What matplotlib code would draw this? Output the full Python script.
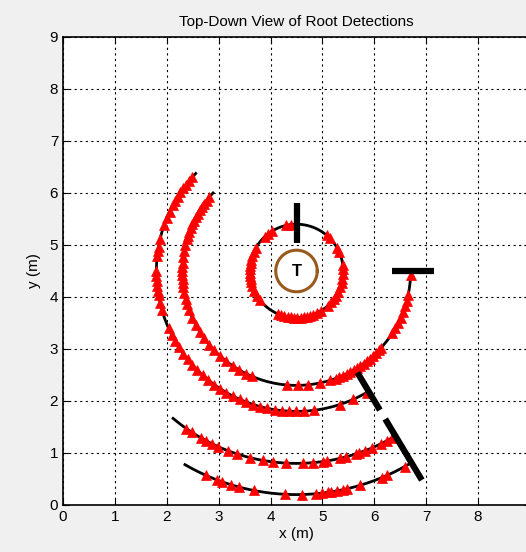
import numpy as np
import matplotlib.pyplot as plt

# tree position and scan rings around it (m)
tree_xy = (4.5, 4.5)
tree_radius = 0.4
ring_radius = [0.9, 2.2, 2.7, 3.7, 4.3]
arc_start = [0, 137, 136, 230, 240]   # deg
arc_end = [360, 357, 301, 301, 300]   # deg

# angles (deg) at which a root was detected on each ring
det_ring0 = [97, 103, 122, 128, 133, 150, 156, 161, 166, 170, 174, 178, 182, 186, 190,
             194, 199, 205, 212, 218, 247, 251, 255, 259, 263, 267, 271, 275, 279, 283,
             287, 291, 296, 301, 312, 318, 323, 328, 334, 340, 345, 350, 356, 2, 7,
             24, 29, 44, 50]
det_ring1 = [140, 142, 144, 146, 148, 150, 152, 154, 156, 158, 160, 162, 164, 167, 170,
             173, 176, 178, 180, 182, 184, 186, 188, 191, 194, 197, 200, 204, 208, 212,
             216, 220, 224, 228, 232, 236, 240, 244, 247, 265, 271, 276, 282, 287, 290,
             292, 294, 296, 298, 300, 302, 304, 306, 308, 310, 312, 314, 316, 318, 327,
             330, 333, 336, 339, 342, 345, 348, 358]
det_ring2 = [138, 140, 142, 144, 146, 148, 150, 152, 155, 158, 161, 167, 170, 172, 174,
             180, 182, 184, 186, 188, 190, 193, 196, 204, 207, 210, 213, 216, 219, 222,
             225, 228, 231, 234, 237, 240, 243, 246, 249, 252, 255, 258, 261, 264, 267,
             270, 273, 277, 288, 294, 300]
det_ring3 = [235, 237, 240, 242, 244, 246, 249, 252, 256, 260, 263, 267, 272, 275, 278,
             279, 283, 285, 288, 289, 291, 293, 296, 298, 300]
det_ring4 = [246, 249, 250.5, 253, 255, 259, 267, 271.5, 275, 276.5, 278, 279, 280.5,
             282, 283, 286.5, 292.5, 294, 299]
detections = [det_ring0, det_ring1, det_ring2, det_ring3, det_ring4]

# radial cut lines: (angle deg, inner r, outer r)
cut_angle = [90, 0, -59, -59]
cut_r0 = [0.54, 1.85, 2.28, 3.32]
cut_r1 = [1.30, 2.65, 3.12, 4.69]

x_ticklabels = ['0', '1', '2', '3', '4', '5', '6', '7', '8', '']

plt.rcParams['font.family'] = ['Liberation Sans', 'DejaVu Sans']

fig = plt.figure(figsize=(5.26, 5.52), dpi=100, facecolor='#f0f0f0')
ax = fig.add_axes([63 / 526, 47 / 552, 467 / 526, 468 / 552])
ax.set_facecolor('white')

cx, cy = tree_xy
for r, a0, a1, det in zip(ring_radius, arc_start, arc_end, detections):
    th = np.radians(np.linspace(a0, a1, 300))
    ax.plot(cx + r * np.cos(th), cy + r * np.sin(th), color='black', lw=2, zorder=3)
    td = np.radians(np.array(det))
    ax.plot(cx + r * np.cos(td), cy + r * np.sin(td), linestyle='none', marker='^',
            ms=7.5, color='red', mec='red', mew=0.5, zorder=4)

for ang, r0, r1 in zip(cut_angle, cut_r0, cut_r1):
    a = np.radians(ang)
    ax.plot([cx + r0 * np.cos(a), cx + r1 * np.cos(a)],
            [cy + r0 * np.sin(a), cy + r1 * np.sin(a)],
            color='black', lw=4.5, solid_capstyle='butt', zorder=5)

th = np.linspace(0, 2 * np.pi, 200)
ax.plot(cx + tree_radius * np.cos(th), cy + tree_radius * np.sin(th),
        color='#9a5a1e', lw=2.2, zorder=5)
ax.text(cx, cy, 'T', ha='center', va='center', fontsize=12, fontweight='bold', zorder=6)

ax.set_xlim(0, 9)
ax.set_ylim(0, 9)
ax.set_xticks(range(0, 10))
ax.set_xticklabels(x_ticklabels)
ax.set_yticks(range(0, 10))
ax.grid(True, color='black', linestyle=(0, (2, 3)), lw=0.8)
ax.set_axisbelow(True)
ax.tick_params(direction='in', length=4, top=True, right=True, labelsize=11)
for s in ax.spines.values():
    s.set_linewidth(1.2)

ax.set_title('Top-Down View of Root Detections', fontsize=11, pad=8)
ax.set_xlabel('x (m)', fontsize=11, labelpad=2)
ax.set_ylabel('y (m)', fontsize=11, labelpad=6)

fig.savefig('out.png', dpi=100, facecolor=fig.get_facecolor())
